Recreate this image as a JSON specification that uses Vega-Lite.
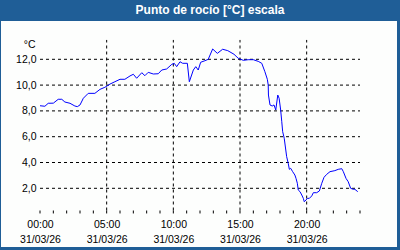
{
  "$schema": "https://vega.github.io/schema/vega-lite/v6.json",
  "width": 396,
  "height": 226,
  "autosize": {"type": "none"},
  "padding": {"left": 1, "top": 21, "right": 3, "bottom": 3},
  "background": "#1f5e97",
  "title": {
    "text": "Punto de rocío [°C] escala",
    "color": "white",
    "font": "Liberation Sans",
    "fontSize": 12,
    "fontWeight": "bold",
    "anchor": "middle",
    "frame": "group",
    "dx": 11,
    "offset": -5,
    "baseline": "alphabetic"
  },
  "config": {
    "view": {"fill": "#fdfefd", "stroke": null},
    "axis": {"labelFont": "Liberation Sans", "labelFontSize": 10.5, "labelColor": "black", "titleFont": "Liberation Sans", "titleFontSize": 10.5, "titleColor": "black", "titleFontWeight": "normal", "grid": false, "labelOverlap": false}
  },
  "datasets": {
    "dew": [
      {"t": "2026-03-31T00:00", "v": 8.40},
      {"t": "2026-03-31T00:22", "v": 8.36},
      {"t": "2026-03-31T00:37", "v": 8.59},
      {"t": "2026-03-31T01:00", "v": 8.60},
      {"t": "2026-03-31T01:22", "v": 8.90},
      {"t": "2026-03-31T01:38", "v": 8.90},
      {"t": "2026-03-31T01:52", "v": 8.69},
      {"t": "2026-03-31T02:15", "v": 8.59},
      {"t": "2026-03-31T02:37", "v": 8.38},
      {"t": "2026-03-31T02:48", "v": 8.33},
      {"t": "2026-03-31T03:00", "v": 8.46},
      {"t": "2026-03-31T03:15", "v": 8.98},
      {"t": "2026-03-31T03:37", "v": 9.36},
      {"t": "2026-03-31T04:07", "v": 9.36},
      {"t": "2026-03-31T04:30", "v": 9.67},
      {"t": "2026-03-31T04:52", "v": 9.83},
      {"t": "2026-03-31T05:15", "v": 10.08},
      {"t": "2026-03-31T05:37", "v": 10.26},
      {"t": "2026-03-31T06:00", "v": 10.45},
      {"t": "2026-03-31T06:22", "v": 10.45},
      {"t": "2026-03-31T06:45", "v": 10.71},
      {"t": "2026-03-31T07:00", "v": 10.84},
      {"t": "2026-03-31T07:15", "v": 10.53},
      {"t": "2026-03-31T07:38", "v": 10.96},
      {"t": "2026-03-31T07:52", "v": 10.73},
      {"t": "2026-03-31T08:07", "v": 10.99},
      {"t": "2026-03-31T08:30", "v": 10.86},
      {"t": "2026-03-31T08:52", "v": 10.88},
      {"t": "2026-03-31T09:08", "v": 11.17},
      {"t": "2026-03-31T09:30", "v": 11.25},
      {"t": "2026-03-31T09:53", "v": 11.61},
      {"t": "2026-03-31T10:04", "v": 11.69},
      {"t": "2026-03-31T10:15", "v": 11.43},
      {"t": "2026-03-31T10:30", "v": 11.81},
      {"t": "2026-03-31T10:42", "v": 11.69},
      {"t": "2026-03-31T11:03", "v": 11.69},
      {"t": "2026-03-31T11:12", "v": 10.26},
      {"t": "2026-03-31T11:30", "v": 11.17},
      {"t": "2026-03-31T11:41", "v": 11.43},
      {"t": "2026-03-31T11:52", "v": 11.17},
      {"t": "2026-03-31T12:03", "v": 11.77},
      {"t": "2026-03-31T12:22", "v": 11.89},
      {"t": "2026-03-31T12:37", "v": 12.00},
      {"t": "2026-03-31T12:57", "v": 12.80},
      {"t": "2026-03-31T13:18", "v": 12.46},
      {"t": "2026-03-31T13:42", "v": 12.78},
      {"t": "2026-03-31T14:05", "v": 12.67},
      {"t": "2026-03-31T14:15", "v": 12.57},
      {"t": "2026-03-31T14:33", "v": 12.39},
      {"t": "2026-03-31T14:52", "v": 12.08},
      {"t": "2026-03-31T15:15", "v": 11.92},
      {"t": "2026-03-31T15:37", "v": 11.97},
      {"t": "2026-03-31T16:00", "v": 11.97},
      {"t": "2026-03-31T16:22", "v": 11.84},
      {"t": "2026-03-31T16:38", "v": 11.69},
      {"t": "2026-03-31T16:52", "v": 11.04},
      {"t": "2026-03-31T17:03", "v": 10.45},
      {"t": "2026-03-31T17:07", "v": 10.00},
      {"t": "2026-03-31T17:08", "v": 9.23},
      {"t": "2026-03-31T17:15", "v": 8.46},
      {"t": "2026-03-31T17:25", "v": 8.38},
      {"t": "2026-03-31T17:33", "v": 8.46},
      {"t": "2026-03-31T17:41", "v": 8.07},
      {"t": "2026-03-31T17:50", "v": 9.23},
      {"t": "2026-03-31T17:56", "v": 8.98},
      {"t": "2026-03-31T18:03", "v": 8.07},
      {"t": "2026-03-31T18:08", "v": 7.16},
      {"t": "2026-03-31T18:12", "v": 6.39},
      {"t": "2026-03-31T18:19", "v": 5.88},
      {"t": "2026-03-31T18:30", "v": 4.45},
      {"t": "2026-03-31T18:37", "v": 3.94},
      {"t": "2026-03-31T18:42", "v": 3.47},
      {"t": "2026-03-31T18:48", "v": 3.55},
      {"t": "2026-03-31T18:57", "v": 3.29},
      {"t": "2026-03-31T19:07", "v": 3.03},
      {"t": "2026-03-31T19:12", "v": 2.77},
      {"t": "2026-03-31T19:18", "v": 2.39},
      {"t": "2026-03-31T19:22", "v": 1.87},
      {"t": "2026-03-31T19:30", "v": 1.74},
      {"t": "2026-03-31T19:38", "v": 1.48},
      {"t": "2026-03-31T19:45", "v": 1.22},
      {"t": "2026-03-31T19:49", "v": 0.96},
      {"t": "2026-03-31T19:57", "v": 1.09},
      {"t": "2026-03-31T20:03", "v": 1.22},
      {"t": "2026-03-31T20:12", "v": 1.22},
      {"t": "2026-03-31T20:23", "v": 1.41},
      {"t": "2026-03-31T20:30", "v": 1.66},
      {"t": "2026-03-31T20:45", "v": 1.66},
      {"t": "2026-03-31T20:57", "v": 1.79},
      {"t": "2026-03-31T21:08", "v": 2.39},
      {"t": "2026-03-31T21:18", "v": 2.85},
      {"t": "2026-03-31T21:30", "v": 3.08},
      {"t": "2026-03-31T21:45", "v": 3.29},
      {"t": "2026-03-31T22:07", "v": 3.37},
      {"t": "2026-03-31T22:22", "v": 3.47},
      {"t": "2026-03-31T22:38", "v": 3.52},
      {"t": "2026-03-31T22:45", "v": 3.29},
      {"t": "2026-03-31T22:57", "v": 2.77},
      {"t": "2026-03-31T23:07", "v": 2.51},
      {"t": "2026-03-31T23:18", "v": 2.00},
      {"t": "2026-03-31T23:30", "v": 1.92},
      {"t": "2026-03-31T23:37", "v": 1.92},
      {"t": "2026-03-31T23:50", "v": 1.74}
    ],
    "vgrid": [
      {"t": "2026-03-31T05:00"},
      {"t": "2026-03-31T10:00"},
      {"t": "2026-03-31T15:00"},
      {"t": "2026-03-31T20:00"}
    ],
    "hourly": [
      {"t": "2026-03-31T00:00"}, {"t": "2026-03-31T01:00"}, {"t": "2026-03-31T02:00"},
      {"t": "2026-03-31T03:00"}, {"t": "2026-03-31T04:00"}, {"t": "2026-03-31T05:00"},
      {"t": "2026-03-31T06:00"}, {"t": "2026-03-31T07:00"}, {"t": "2026-03-31T08:00"},
      {"t": "2026-03-31T09:00"}, {"t": "2026-03-31T10:00"}, {"t": "2026-03-31T11:00"},
      {"t": "2026-03-31T12:00"}, {"t": "2026-03-31T13:00"}, {"t": "2026-03-31T14:00"},
      {"t": "2026-03-31T15:00"}, {"t": "2026-03-31T16:00"}, {"t": "2026-03-31T17:00"},
      {"t": "2026-03-31T18:00"}, {"t": "2026-03-31T19:00"}, {"t": "2026-03-31T20:00"},
      {"t": "2026-03-31T21:00"}, {"t": "2026-03-31T22:00"}, {"t": "2026-03-31T23:00"},
      {"t": "2026-04-01T00:00"}
    ],
    "hgrid": [
      {"v": 2}, {"v": 4}, {"v": 6}, {"v": 8}, {"v": 10}, {"v": 12}
    ]
  },
  "layer": [
    {
      "data": {"name": "hgrid"},
      "mark": {"type": "rule", "color": "black", "strokeWidth": 1, "strokeDash": [3, 3]},
      "encoding": {
        "y": {"field": "v", "type": "quantitative", "title": "°C"},
        "x": {"datum": {"year": 2026, "month": 3, "date": 31, "hours": 0}, "type": "temporal", "title": null},
        "x2": {"datum": {"year": 2026, "month": 4, "date": 1, "hours": 0}}
      }
    },
    {
      "data": {"name": "vgrid"},
      "mark": {"type": "rule", "color": "black", "strokeWidth": 1, "strokeDash": [3, 3]},
      "encoding": {
        "x": {"field": "t", "type": "temporal", "title": null},
        "y": {"datum": 0.279, "type": "quantitative", "title": "°C"},
        "y2": {"datum": 13.5}
      }
    },
    {
      "data": {"name": "hourly"},
      "mark": {"type": "rule", "color": "black", "strokeWidth": 1},
      "encoding": {
        "x": {"field": "t", "type": "temporal", "title": null},
        "y": {"datum": 0.279, "type": "quantitative", "title": "°C"},
        "y2": {"datum": 0.05}
      }
    },
    {
      "data": {"name": "dew"},
      "mark": {"type": "line", "color": "#0000ff", "strokeWidth": 1},
      "encoding": {
        "x": {
          "field": "t",
          "type": "temporal",
          "title": null,
          "scale": {
            "domain": [
              {"year": 2026, "month": 3, "date": 30, "hours": 21, "minutes": 4, "seconds": 30},
              {"year": 2026, "month": 4, "date": 1, "hours": 2, "minutes": 46, "seconds": 30}
            ],
            "nice": false
          },
          "axis": {
            "orient": "bottom",
            "offset": -36.5,
            "domain": false,
            "ticks": false,
            "tickSize": 0,
            "labelPadding": 9,
            "labelLineHeight": 14.5,
            "labelFlush": false,
            "labelOverlap": false,
            "labelBound": false,
            "values": [
              {"year": 2026, "month": 3, "date": 31, "hours": 0},
              {"year": 2026, "month": 3, "date": 31, "hours": 5},
              {"year": 2026, "month": 3, "date": 31, "hours": 10},
              {"year": 2026, "month": 3, "date": 31, "hours": 15},
              {"year": 2026, "month": 3, "date": 31, "hours": 20}
            ],
            "labelExpr": "[timeFormat(datum.value, '%H:%M'), timeFormat(datum.value, '%d/%m/%y')]"
          }
        },
        "y": {
          "field": "v",
          "type": "quantitative",
          "title": "°C",
          "scale": {"domain": [-2.55, 14.969], "nice": false, "zero": false},
          "axis": {
            "orient": "left",
            "offset": -39,
            "domain": false,
            "ticks": false,
            "tickSize": 0,
            "labelPadding": 4,
            "values": [2, 4, 6, 8, 10, 12],
            "labelExpr": "replace(format(datum.value, '.1f'), '.', ',')",
            "titleAngle": 0,
            "titleAlign": "right",
            "titleBaseline": "middle",
            "titleX": -5,
            "titleY": 23
          }
        }
      }
    },
    {
      "mark": {"type": "rect", "filled": false, "color": "black", "strokeWidth": 1},
      "encoding": {
        "x": {"datum": {"year": 2026, "month": 3, "date": 31, "hours": 0}, "type": "temporal", "title": null},
        "x2": {"datum": {"year": 2026, "month": 4, "date": 1, "hours": 0}},
        "y": {"datum": 0.279, "type": "quantitative", "title": "°C"},
        "y2": {"datum": 13.5}
      }
    }
  ]
}
